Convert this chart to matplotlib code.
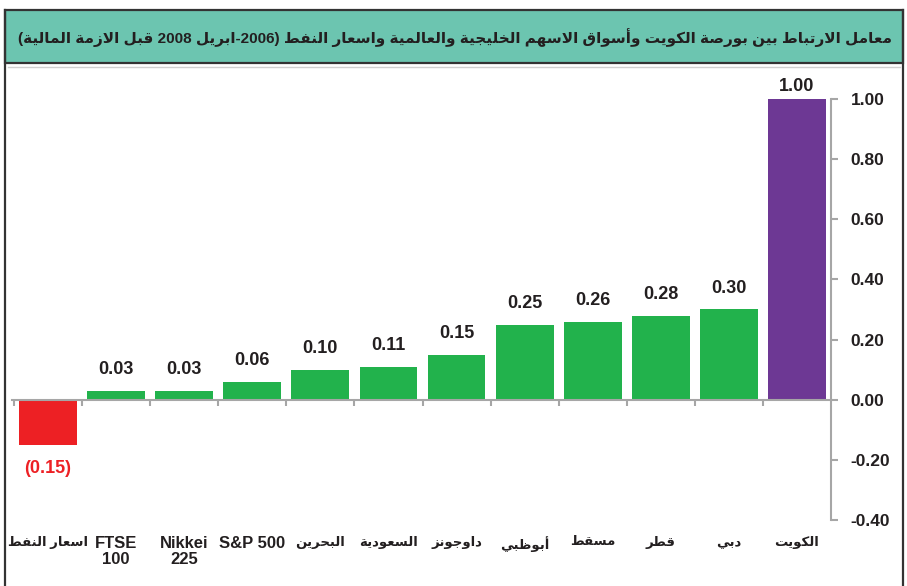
import re
import numpy as np
import matplotlib
matplotlib.use('Agg')
import matplotlib.pyplot as plt
from matplotlib.patches import Rectangle
from matplotlib.lines import Line2D

# data
markets = ['اسعار النفط', 'FTSE\n100', 'Nikkei\n225', 'S&P 500', 'البحرين', 'السعودية',
           'داوجونز', 'أبوظبي', 'مسقط', 'قطر', 'دبي', 'الكويت']
corr = [-0.15, 0.03, 0.03, 0.06, 0.10, 0.11, 0.15, 0.25, 0.26, 0.28, 0.30, 1.00]
title = 'معامل الارتباط بين بورصة الكويت وأسواق الاسهم الخليجية والعالمية واسعار النفط (2006-ابريل 2008 قبل الازمة المالية)'

GREEN = '#22b24c'
RED = '#ed2024'
PURPLE = '#6d3894'
TEAL = '#6cc5b0'
GREY = '#a6a6a6'
DARK = '#231f20'
FONT = ['Liberation Sans Narrow', 'Liberation Sans', 'DejaVu Sans']

# --- tiny arabic shaper (matplotlib has no bidi / joining) ---
FORMS = {'ا': (0xFE8D, 2), 'أ': (0xFE83, 2), 'ب': (0xFE8F, 4), 'ة': (0xFE93, 2),
         'ت': (0xFE95, 4), 'ج': (0xFE9D, 4), 'ح': (0xFEA1, 4), 'خ': (0xFEA5, 4),
         'د': (0xFEA9, 2), 'ر': (0xFEAD, 2), 'ز': (0xFEAF, 2), 'س': (0xFEB1, 4),
         'ص': (0xFEB9, 4), 'ط': (0xFEC1, 4), 'ظ': (0xFEC5, 4), 'ع': (0xFEC9, 4),
         'ف': (0xFED1, 4), 'ق': (0xFED5, 4), 'ك': (0xFED9, 4), 'ل': (0xFEDD, 4),
         'م': (0xFEE1, 4), 'ن': (0xFEE5, 4), 'ه': (0xFEE9, 4), 'و': (0xFEED, 2),
         'ي': (0xFEF1, 4)}
LAM_ALEF = {'ا': (0xFEFB, 2), 'أ': (0xFEF7, 2)}


def shape(word):
    units = []
    i = 0
    while i < len(word):
        c = word[i]
        if c == 'ل' and i + 1 < len(word) and word[i + 1] in LAM_ALEF:
            units.append(LAM_ALEF[word[i + 1]])
            i += 2
        else:
            units.append(FORMS.get(c, (ord(c), 1)))
            i += 1
    out = ''
    for k, (base, n) in enumerate(units):
        prev = k > 0 and units[k - 1][1] == 4
        nxt = n == 4 and k + 1 < len(units) and units[k + 1][1] > 1
        if n == 1:
            out += chr(base)
            continue
        if prev and nxt:
            f = 3
        elif nxt:
            f = 2
        elif prev:
            f = 1
        else:
            f = 0
        out += chr(base + f)
    return out


def ar(text):
    tokens = re.findall(r'[\u0600-\u06FF]+|[^\u0600-\u06FF\s()\-]+|\s+|.', text)
    out = []
    for t in reversed(tokens):
        if re.match(r'[\u0600-\u06FF]', t):
            out.append(shape(t)[::-1])
        elif t == '(':
            out.append(')')
        elif t == ')':
            out.append('(')
        else:
            out.append(t)
    return ''.join(out)


W, H = 907, 586
fig = plt.figure(figsize=(W / 100, H / 100), dpi=100)


def fx(x):
    return x / W


def fy(y):
    return 1 - y / H


# frame + title bar
fig.add_artist(Line2D([fx(5), fx(5)], [fy(10), 0], color='#333333', lw=1.6))
fig.add_artist(Line2D([fx(903), fx(903)], [fy(10), 0], color='#333333', lw=1.6))
fig.add_artist(Rectangle((fx(5), fy(63)), fx(898), 53 / H, facecolor=TEAL,
                         edgecolor='#333333', lw=1.6, transform=fig.transFigure))
fig.add_artist(Line2D([fx(8), fx(900)], [fy(67), fy(67)], color='#d0d0d0', lw=1))
fig.text(fx(455), fy(38), ar(title), ha='center', va='center', fontsize=11,
         fontweight='bold', color=DARK, family=FONT)

ax = fig.add_axes([fx(12), fy(520), fx(831 - 12), (520 - 99) / H])
x = np.arange(len(corr))
colors = [RED if v < 0 else GREEN for v in corr]
colors[-1] = PURPLE
ax.bar(x, corr, width=0.85, color=colors, zorder=1)
ax.set_xlim(-0.53, 11.5)
ax.set_ylim(-0.4, 1.0)

for s in ['top', 'left']:
    ax.spines[s].set_visible(False)
ax.spines['bottom'].set_position(('data', 0))
ax.spines['bottom'].set_color(GREY)
ax.spines['bottom'].set_linewidth(1.5)
ax.spines['right'].set_color(GREY)
ax.spines['right'].set_linewidth(1.5)

ax.yaxis.tick_right()
ax.set_yticks(np.arange(-0.4, 1.01, 0.2))
ax.set_yticklabels(['%.2f' % v for v in np.arange(-0.4, 1.01, 0.2)])
ax.tick_params(axis='y', direction='out', length=5, width=1.5, color=GREY, pad=9,
               labelsize=12.5, labelcolor=DARK)
for t in ax.get_yticklabels():
    t.set_fontweight('bold')
    t.set_family(FONT)

ax.set_xticks(np.arange(-0.5, 11.5, 1))
ax.set_xticklabels([])
ax.tick_params(axis='x', direction='out', length=4, width=1.5, color=GREY)

for i, v in enumerate(corr):
    if v < 0:
        ax.annotate('(%.2f)' % abs(v), (i, v), xytext=(0, -11), textcoords='offset points',
                    ha='center', va='top', fontsize=13, fontweight='bold', color=RED,
                    family=FONT)
    else:
        # the top label sits closer to its bar in the reference
        off = 3 if v >= 1 else 9
        ax.annotate('%.2f' % v, (i, v), xytext=(0, off), textcoords='offset points',
                    ha='center', va='bottom', fontsize=13, fontweight='bold', color=DARK,
                    family=FONT, annotation_clip=False)

for i, lab in enumerate(markets):
    if re.search(r'[\u0600-\u06FF]', lab):
        txt, fs = ar(lab), 9.5
    else:
        txt, fs = lab, 12
    ax.text(i, -0.452, txt, ha='center', va='top', fontsize=fs, fontweight='bold',
            color=DARK, family=FONT, linespacing=1.1, clip_on=False)

fig.savefig('out.png', dpi=100)
